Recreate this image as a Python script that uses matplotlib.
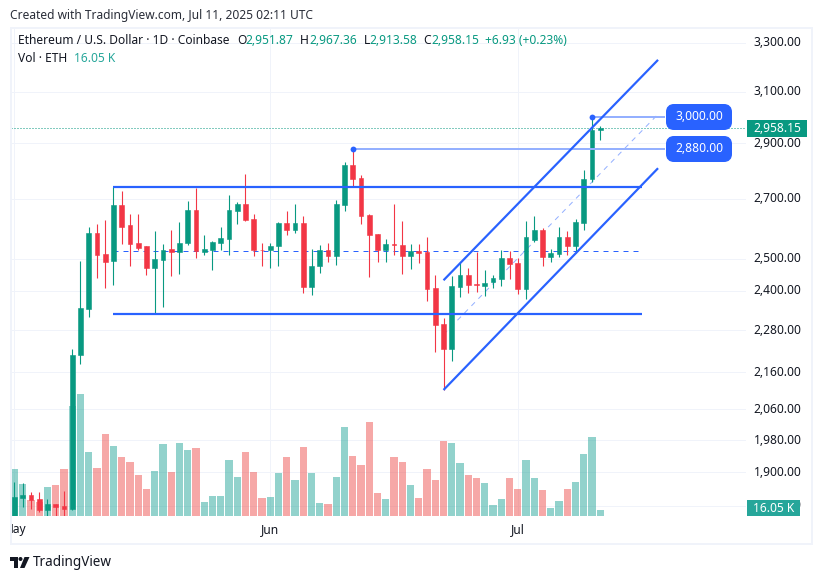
import numpy as np
import matplotlib
matplotlib.use('Agg')
import matplotlib.pyplot as plt
from matplotlib.patches import FancyBboxPatch, Polygon, Rectangle, Circle
from matplotlib.ticker import NullLocator
from matplotlib.transforms import ScaledTranslation

plt.rcParams['font.family'] = ['Noto Sans', 'DejaVu Sans']

# daily candles, 1 May - 11 Jul 2025
opens = [1795, 1838, 1845, 1836, 1810, 1824, 1820, 1812, 2208, 2345, 2585, 2515, 2492, 2678, 2610, 2550, 2540, 2472,
         2495, 2533, 2522, 2551, 2663, 2522, 2528, 2552, 2566, 2658, 2682, 2632, 2530, 2528, 2543, 2618, 2594, 2618,
         2412, 2476, 2528, 2509, 2678, 2819, 2775, 2645, 2582, 2528, 2548, 2545, 2509, 2525, 2522, 2407, 2299, 2227,
         2410, 2450, 2420, 2413, 2428, 2435, 2502, 2486, 2405, 2562, 2594, 2505, 2515, 2570, 2541, 2617, 2769, 2951.87]
highs = [1876, 1874, 1852, 1852, 1836, 1825, 1855, 2225, 2493, 2603, 2613, 2627, 2742, 2727, 2647, 2647, 2540, 2590,
         2549, 2594, 2620, 2692, 2738, 2578, 2558, 2603, 2714, 2688, 2788, 2650, 2551, 2551, 2620, 2657, 2682, 2640,
         2533, 2545, 2551, 2696, 2830, 2884, 2785, 2648, 2582, 2565, 2682, 2624, 2548, 2548, 2572, 2450, 2317, 2444,
         2486, 2470, 2522, 2463, 2450, 2528, 2525, 2502, 2624, 2640, 2600, 2531, 2605, 2590, 2631, 2802, 3000, 2967.36]
lows = [1785, 1817, 1812, 1805, 1790, 1790, 1790, 1810, 2185, 2320, 2440, 2407, 2417, 2548, 2476, 2530, 2447, 2328,
        2350, 2444, 2453, 2545, 2502, 2513, 2465, 2528, 2513, 2613, 2625, 2508, 2476, 2470, 2476, 2578, 2585, 2392,
        2385, 2456, 2490, 2479, 2657, 2742, 2615, 2443, 2490, 2490, 2513, 2453, 2467, 2486, 2368, 2218, 2112, 2192,
        2380, 2392, 2395, 2383, 2407, 2413, 2435, 2388, 2375, 2555, 2476, 2490, 2505, 2512, 2519, 2594, 2760, 2913.58]
closes = [1840, 1845, 1833, 1810, 1824, 1817, 1812, 2208, 2347, 2585, 2513, 2490, 2678, 2605, 2548, 2534, 2472, 2498,
          2530, 2522, 2551, 2663, 2526, 2533, 2556, 2568, 2661, 2682, 2629, 2528, 2528, 2541, 2618, 2594, 2618, 2412,
          2478, 2528, 2509, 2682, 2819, 2772, 2640, 2578, 2528, 2548, 2545, 2509, 2525, 2519, 2405, 2297, 2227, 2414,
          2450, 2416, 2417, 2425, 2440, 2502, 2483, 2405, 2570, 2594, 2505, 2519, 2570, 2541, 2620, 2772, 2950, 2958.15]
# volume in thousand ETH
volumes = [126, 86, 43, 38, 78, 83, 126, 295, 327, 172, 129, 220, 188, 158, 145, 110, 72, 121,
           193, 118, 196, 177, 182, 38, 54, 54, 150, 105, 172, 118, 48, 51, 115, 158, 96, 185,
           115, 35, 32, 105, 239, 161, 137, 252, 62, 46, 158, 145, 83, 48, 126, 96, 201, 196,
           142, 110, 102, 88, 29, 46, 102, 72, 150, 102, 70, 21, 40, 72, 91, 166, 212, 16.05]

price_ticks = [3300, 3100, 2900, 2700, 2500, 2400, 2280, 2160, 2060, 1980, 1900, 1820]
price_labels = ['3,300.00', '3,100.00', '2,900.00', '2,700.00', '2,500.00', '2,400.00',
                '2,280.00', '2,160.00', '2,060.00', '1,980.00', '1,900.00', '1,820.00']
month_pos = [0, 31, 61]
month_names = ['May', 'Jun', 'Jul']

# drawings: (start index, end index, start price, end price)
range_lines = [(12, 76, 2742, 2742), (12, 76, 2328, 2328)]
range_mid = (12, 76, 2526, 2526)
channel_lines = [(52, 78, 2432, 3229), (52, 78, 2112, 2809)]
channel_mid = (52, 78, 2268, 3011)
note_lines = [(41, 78.9, 2880, 2880), (70, 78.9, 3000, 3000)]
last_price = 2958.15

UP = '#089981'
DOWN = '#F23645'
BLUE = '#2962FF'
GRID = '#f0f3fa'
INK = '#131722'
PX = 0.72  # points per pixel at dpi 100

W, H = 822, 579
fig = plt.figure(figsize=(W / 100, H / 100), dpi=100)
pane = [11 / W, (H - 516) / H, 735 / W, 488 / H]
xlim = (-0.42, 88.66)
ylim = (1796, 3364)


def fs(px):
    return px * PX


x = np.arange(len(closes))
o, hi, lo, c = map(np.array, (opens, highs, lows, closes))
up = c >= o

# bottom layer: grid and price scale
ax = fig.add_axes(pane)
ax.set_yscale('log')
ax.set_xlim(xlim)
ax.set_ylim(ylim)
ax.set_yticks(price_ticks, price_labels)
ax.yaxis.set_minor_locator(NullLocator())
ax.yaxis.tick_right()
ax.set_xticks(month_pos, [''] * len(month_pos))
ax.tick_params(length=0)
ax.tick_params(axis='y', labelsize=fs(12), labelcolor=INK, pad=7.5 * PX)
ax.grid(True, color=GRID, lw=1 * PX)
# labels sit a little above their grid line
nudge = ScaledTranslation(0, 1.5 / 100, fig.dpi_scale_trans)
for lab in ax.get_yticklabels():
    lab.set_transform(lab.get_transform() + nudge)
for s in ax.spines.values():
    s.set_visible(False)

# volume pane
ax_vol = fig.add_axes(pane)
ax_vol.patch.set_visible(False)
ax_vol.set_xlim(xlim)
ax_vol.set_ylim(0, 1308)
ax_vol.axis('off')
vol_colors = ['#26a69a' if u else '#ef5350' for u in up]
ax_vol.bar(x, volumes, width=0.86, color=vol_colors, alpha=0.5, linewidth=0)

# candles and drawings
ax_p = fig.add_axes(pane)
ax_p.patch.set_visible(False)
ax_p.set_yscale('log')
ax_p.set_xlim(xlim)
ax_p.set_ylim(ylim)
ax_p.axis('off')

for seg, col in ((range_mid, BLUE), (channel_mid, '#94B0FF')):
    ax_p.plot(seg[:2], seg[2:], color=col, lw=1 * PX, dashes=(5, 5), zorder=1)

colors = [UP if u else DOWN for u in up]
ax_p.vlines(x, lo, hi, colors=colors, lw=1.1 * PX, zorder=3)
bot = np.minimum(o, c)
top = np.maximum(o, c)
ax_p.bar(x, top - bot, bottom=bot, width=0.56, color=colors, edgecolor=colors, linewidth=0.4, zorder=3)

ax_p.axhline(last_price, color=UP, lw=1 * PX, ls=(0, (1, 2)), zorder=2)

for seg in note_lines:
    ax_p.plot(seg[:2], seg[2:], color='#94B0FF', lw=2 * PX, zorder=4, solid_capstyle='butt')
    ax_p.plot(seg[0], seg[2], 'o', color=BLUE, ms=4.2, mew=0, zorder=6)
for seg in range_lines + channel_lines:
    ax_p.plot(seg[:2], seg[2:], color=BLUE, lw=2.2 * PX, zorder=5, solid_capstyle='butt')

# time scale, May is cut by the pane edge
ax_t = fig.add_axes([11 / W, (H - 543) / H, 735 / W, 27 / H])
ax_t.set_xlim(xlim)
ax_t.set_ylim(0, 1)
ax_t.axis('off')
for pos, name in zip(month_pos, month_names):
    ax_t.text(pos, 0.5, name, ha='center', va='center', fontsize=fs(12), color=INK,
              fontweight='semibold', clip_on=True)

# overlay in pixels: frame, tags, header, logo
ov = fig.add_axes([0, 0, 1, 1], zorder=10)
ov.patch.set_visible(False)
ov.set_xlim(0, W)
ov.set_ylim(H, 0)
ov.axis('off')

ov.add_patch(Rectangle((10.5, 27.5), 801, 516, fill=False, ec=GRID, lw=2 * PX))

for y0, txt in ((104, '3,000.00'), (136, '2,880.00')):
    ov.add_patch(FancyBboxPatch((670, y0 + 4), 58, 18, boxstyle='round,pad=0,rounding_size=4',
                                mutation_aspect=1, fc=BLUE, ec=BLUE, lw=8 * PX))
    ov.text(699, y0 + 13, txt, color='white', fontsize=fs(12), ha='center', va='center')

ov.add_patch(Rectangle((747, 120), 60, 17, fc=UP, ec='none'))
ov.text(777, 128, '2,958.15', color='white', fontsize=fs(12), ha='center', va='center')
ov.add_patch(Rectangle((747, 500), 53, 16, fc='#26a69a', ec='none'))
ov.text(773.5, 508, '16.05 K', color='white', fontsize=fs(12), ha='center', va='center')

ov.text(10, 15, 'Created with TradingView.com, Jul 11, 2025 02:11 UTC', color='#2a2e39',
        fontsize=fs(12), ha='left', va='center')
ov.text(18, 41, 'Ethereum / U.S. Dollar \u00b7 1D \u00b7 Coinbase', color=INK, fontsize=fs(12), ha='left', va='center')
for xp, txt, col in ((237, 'O', INK), (245.5, '2,951.87', UP), (300, 'H', INK), (309, '2,967.36', UP),
                     (363.5, 'L', INK), (369.5, '2,913.58', UP), (423.5, 'C', INK), (431, '2,958.15', UP),
                     (485, '+6.93 (+0.23%)', UP)):
    ov.text(xp, 41, txt, color=col, fontsize=fs(12), ha='left', va='center')
ov.text(18, 59, 'Vol \u00b7 ETH', color=INK, fontsize=fs(12), ha='left', va='center')
ov.text(74, 59, '16.05 K', color='#26a69a', fontsize=fs(12), ha='left', va='center')

ov.add_patch(Polygon([(10, 557), (18, 557), (18, 568), (14, 568), (14, 561), (10, 561)], fc=INK, ec='none'))
ov.add_patch(Circle((20.5, 559), 2, fc=INK, ec='none'))
ov.add_patch(Polygon([(24.5, 557), (29.5, 557), (24.5, 568), (20, 568)], fc=INK, ec='none'))
ov.text(33, 562, 'TradingView', color=INK, fontsize=fs(13.5), ha='left', va='center')

fig.savefig('out.png', dpi=100, facecolor='white')
